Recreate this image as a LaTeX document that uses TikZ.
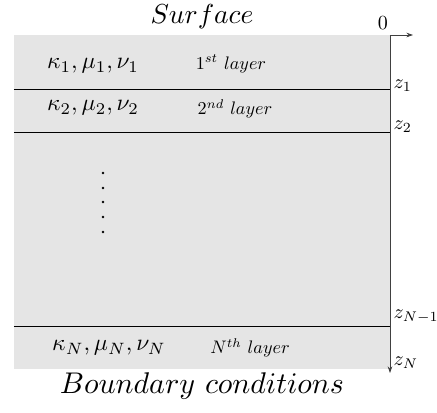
\documentclass[tikz,border=0pt]{standalone}
\usepackage{amsmath,amssymb}
\usetikzlibrary{arrows.meta,positioning}

\begin{document}
\begin{tikzpicture}[x=0.75pt, y=-0.75pt, >={Stealth[length=5pt,width=3.5pt]},
    bigtext/.style={scale=2.06},
    partext/.style={scale=1.76},
    nametext/.style={scale=1.36},
    depthtext/.style={scale=1.5, anchor=west, inner sep=0.6pt},
    layerline/.style={line width=0.65pt},
    axisline/.style={line width=0.6pt, draw=black!75}]
  \useasboundingbox (0,0) rectangle (437,412);
  % medium
  \fill[black!10] (14,35) rectangle (390,369);
  \draw[layerline] (14,89)  -- (390,89);
  \draw[layerline] (14,132) -- (390,132);
  \draw[layerline] (14,326) -- (390,326);
  % axes
  \coordinate (o)    at (390,35);
  \coordinate (xend) at (413,35);
  \coordinate (zend) at (390,373);
  \draw[axisline, ->] (o) -- (xend);
  \draw[axisline, ->] (o) -- (zend);
  \node[depthtext, anchor=south, inner sep=1.5pt] (zero) at (383,33) {$0$};
  \node[depthtext] (z1)  at (392,86)  {$z_1$};
  \node[depthtext] (z2)  at (392,127) {$z_2$};
  \node[depthtext] (zn1) at (392,317) {$z_{N-1}$};
  \node[depthtext] (zn)  at (392,363) {$z_N$};
  % labels
  \node[bigtext] (surf)  at (202,17)  {$Surface$};
  \node[bigtext, scale=1.09] (bound) at (202,386) {$Boundary\ conditions$};
  \node[partext]  (p1) at (93,66)   {$\kappa_1,\mu_1,\nu_1$};
  \node[nametext] (l1) at (231,64)  {$1^{st}\ layer$};
  \node[partext]  (p2) at (93,108)  {$\kappa_2,\mu_2,\nu_2$};
  \node[nametext] (l2) at (235,109) {$2^{nd}\ layer$};
  \node[partext]  (pn) at (109,348) {$\kappa_N,\mu_N,\nu_N$};
  \node[nametext] (ln) at (250,348) {$N^{th}\ layer$};
  % dots
  \foreach \y in {173,188,202,217,232}
    \fill (103,\y) circle (1.4);
\end{tikzpicture}
\end{document}
